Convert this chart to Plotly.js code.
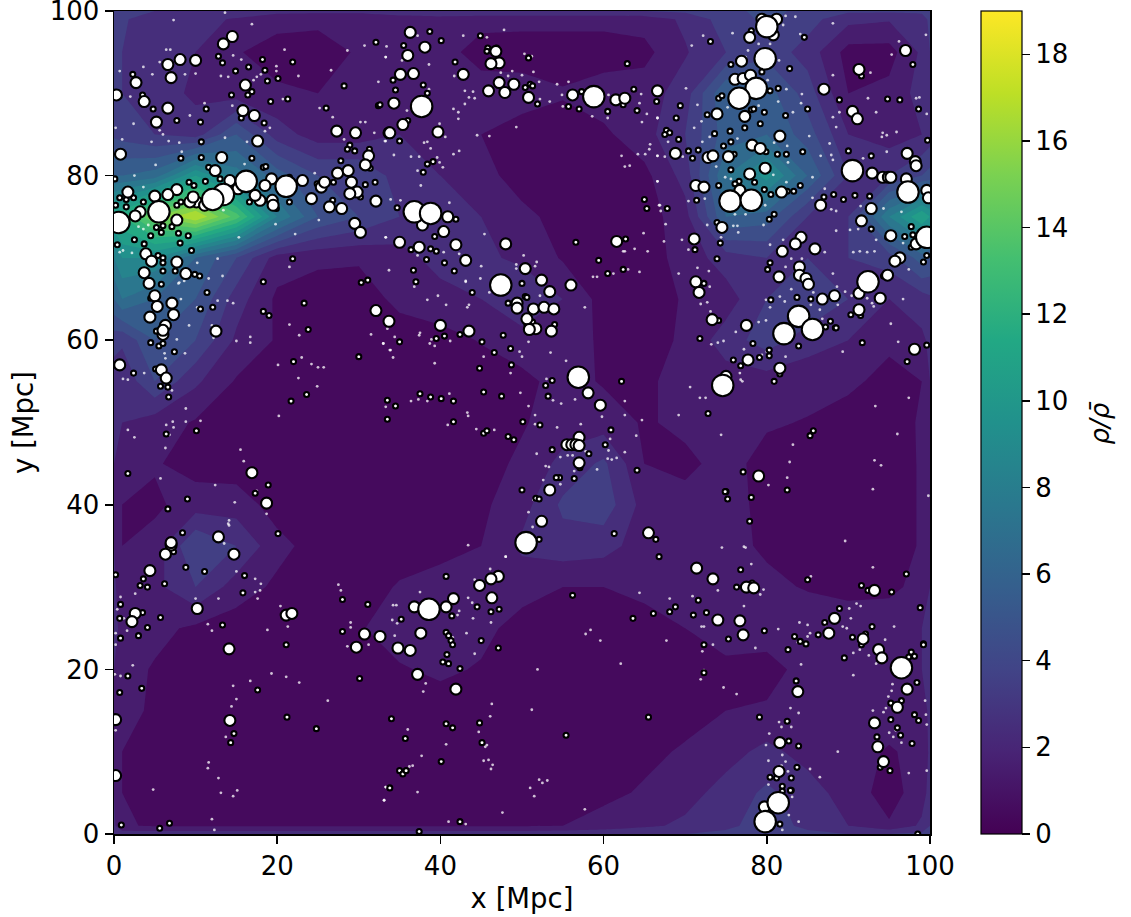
<!DOCTYPE html>
<html><head><meta charset="utf-8">
<script src="https://cdn.plot.ly/plotly-3.0.1.min.js"></script>
<style>html,body{margin:0;padding:0;background:#fff}</style></head>
<body><div id="chart" style="width:1131px;height:917px"></div>
<script>
const gridX=[0,1,5,10,15,20,25,30,35,40,45,50,55,60,65,70,75,80,85,90,95,99,100];
const gridY=[100,99,95,90,85,80,75,70,65,60,55,50,45,40,35,30,25,20,15,10,5,1,0];
const rhoRows=[
[3.6,3.4,3,3,2.6,2.3,2.3,2.3,2.6,2.8,3,3,3,3,3,3.2,3.8,4.2,3.8,3.2,3.2,3.2,3.4],
[3.4,3.1,2.6,2.3,1.9,1.4,1.2,1.2,1.5,1.6,1.3,1.3,1.3,1.3,1.4,2.2,3.5,4.2,3.4,2.3,2.1,2.6,3.2],
[3.3,3,2.5,2,1.1,0.5,0.6,1.1,1.4,1.4,0.6,0.5,0.5,0.5,0.7,1.9,3,3.6,2.6,0.6,0.6,2.2,3],
[3.3,3,2.5,1.8,1.5,1.2,1,1.4,1.8,1.5,1.5,1.5,1.1,1.5,1.5,2.5,6,5.5,3.5,1,1.3,2.4,2.8],
[3.8,3.6,3,2.5,5,2.5,1.5,1.5,2,1.5,1,0.5,0.5,0.8,1.6,3,5.5,6,4.5,2,1.5,2,2.4],
[6,6,6.5,10,7.5,5.5,4,4,2.5,2,1.4,0.5,0.5,0.5,0.7,2.4,7,9.5,6,3,3,4,4.4],
[11,12,15,17,13.5,8,5,4,3,3,2,1.3,0.6,0.5,0.5,1.6,6,5.5,3,3,8,11,10],
[8,9,9,6,4,1.5,1.2,1.1,1.5,2.5,2.2,1.8,0.9,0.5,0.5,1.4,2.5,3,3,3,3.5,5.5,5],
[6,7,6,5,2.5,0.8,0.5,0.6,1.2,1.5,2,2.8,2,0.6,0.5,1.1,1.5,3,4,3,2,2.5,2.8],
[3.4,3.2,5,4,1.8,0.9,0.5,0.5,0.6,0.7,1.05,1.6,1.6,0.8,0.5,1.2,2.5,3.5,2.5,2,1.2,1.8,2.2],
[2.4,2.2,4,2.2,0.9,0.5,0.5,0.5,0.5,0.5,0.6,0.7,1.4,0.9,0.8,1.4,1.5,1.5,1.3,1.2,0.7,1,2],
[2.2,2,1.5,0.9,0.5,0.5,0.5,0.5,0.5,0.5,0.6,0.9,1.5,1.5,0.9,1.2,1.4,1.1,0.95,0.6,0.6,1.1,2],
[2,1.8,1.1,0.6,0.5,0.5,0.5,0.5,0.5,0.5,0.6,1.2,2.3,3.2,1,0.8,1.3,0.7,0.5,0.5,0.5,1.1,2],
[2,1,0.8,1.5,1.5,0.6,0.5,0.5,0.5,0.5,0.8,1.6,3.2,3.6,1.6,1.3,1.4,0.7,0.5,0.5,0.5,1.1,2],
[2,1,1.4,4,3,1.3,0.6,0.5,0.5,0.6,1,2.2,2.6,2.4,1.5,1.5,1.4,0.8,0.5,0.5,0.5,1.1,2],
[2.2,1.4,1.7,3,1.5,0.8,0.5,0.5,1.1,1.5,1.6,1.4,1,1,1.2,1.3,2,1.3,0.9,0.7,0.7,1.4,2],
[2.2,1.8,1.3,0.8,0.5,0.5,0.5,0.9,1.5,1.6,1.3,0.6,0.5,0.5,0.7,1,1.6,1.4,1.8,1.6,1.8,2,2.3],
[2,1.4,0.9,0.6,0.5,0.5,0.5,0.5,0.9,1.2,0.9,0.5,0.5,0.5,0.5,0.6,0.7,0.7,1.3,1.5,1.6,2,2.3],
[2,1.2,0.9,0.5,0.5,0.5,0.5,0.5,0.5,0.5,0.5,0.5,0.5,0.5,0.5,0.7,1,1.1,1.4,1.5,1.5,1.6,2.2],
[2,1,0.7,0.5,0.5,0.5,0.5,0.5,0.5,0.5,0.5,0.5,0.5,0.5,0.8,1.1,1.6,2.3,1.6,1.4,0.9,1.3,2.2],
[2,1,0.7,0.5,0.5,0.5,0.5,0.5,0.5,0.5,0.5,0.5,0.6,0.8,1.1,1.6,2.4,3.2,2.5,1.5,0.6,1.5,2.4],
[2.2,1.1,0.9,0.9,0.9,0.9,0.9,0.9,0.9,0.9,0.9,0.9,1,1.3,1.8,2.2,2.8,3.4,2.8,2,1.1,2.2,3],
[3,2.6,2.6,2.6,2.6,2.6,2.6,2.6,2.6,2.6,2.6,2.6,2.7,2.8,2.9,3,3.2,3.6,3.2,3,3,3.2,3.6]
];
const smallX=[2.3,12.8,13.3,14.9,16.5,18.2,18.5,21.9,18.8,20.1,16.9,16.4,14.4,19.2,21.3,28.2,32.1,32.4,26,3.5,4.8,7.7,10.6,11.3,15.6,18.4,10.7,8.2,10.7,16.9,28.9,28.6,29.5,31.3,27.8,31.4,30.8,32,30.2,26.8,24.9,26.9,21.5,21.5,19.9,16.6,11.6,18.3,18.6,13,11.2,11.7,9.2,9.8,8.2,7.7,3.6,0.7,1.5,1.5,2.4,0.2,0.1,5.2,6,5.8,7.1,4.5,7.9,9.1,8.1,9.5,2.5,0.4,3.7,5.4,6,6,6,7.5,9.9,10.5,21.9,18.3,31.1,30.3,5.8,38.7,40.1,44.9,35.5,41.8,45.8,46.9,45.7,50.8,62.9,34.2,37.9,34.5,38.4,32.6,50.4,51,51.3,51.9,57.3,55.7,57,60.5,62.4,63.7,64.1,66.5,36,35,38.4,39.1,37.9,65,65.3,34.7,41.9,39.3,36.4,38.8,39.5,38.3,40.5,41.7,36.7,37,56.6,62.7,59.4,62.4,60.5,78.1,84.6,73.1,75.6,82.8,97.9,91.6,79.4,80.4,81.4,88.9,94.8,96.3,98.6,85,82.3,79.7,78.1,78.4,72.7,74.1,74.5,69.4,68.9,79.2,77.3,75.5,73.6,67.7,68.1,67.5,69.2,75.6,74.7,79.9,70.4,70.9,71.6,76,81.3,82.4,84.4,90,92.8,99.7,75.6,76.6,76.1,78.5,74.1,71.4,67.8,79.7,80.5,82.5,83.3,84.1,87,88.2,89.4,90.8,92.6,92.8,94.8,96.9,97.7,97.9,97.7,99.6,99.2,94.3,80.9,80.3,73.9,74.3,71.2,73.9,80.4,80.1,72.3,4.5,4.5,5.2,4.5,5.5,6,10.6,12.1,18.3,19,23.8,23.3,30,5.1,2.4,6.6,5.7,6.7,7.4,22,23.6,21.7,33.5,10.1,6.4,1.7,18.9,17.3,9,6.6,8.4,20.1,7.3,11.4,43.9,50.4,50.6,48.3,51.3,54,47.7,50.6,42.4,40.5,35,39.5,45.1,48.6,46.6,44.8,48.7,62.2,52.9,53.2,53.7,38.8,40.1,41.6,33.5,34.5,37.5,45.3,47.5,50.1,41.6,45.3,48.3,49,45.7,52.2,60.9,60.2,58.2,53.7,64.1,57.1,54.6,56.4,54.2,50,51.7,52.1,61.3,52.1,66.4,66.8,50,83.7,85.4,83,80.5,90.3,91.5,87.8,88.4,88.5,87.2,74.1,71.8,78.3,83.9,82.6,91.7,97.2,99.6,80.3,79.1,80.3,77.4,76.8,75.9,81.6,80.9,72.8,85.7,85.3,77.1,82.5,75,74.9,78.1,77.9,75.2,97.1,0.2,3.6,3.2,4.1,6.2,8.8,16,15.8,0.8,5.7,10.5,3.5,4.1,0.8,0.7,3,21.1,13.3,28,28,31.1,30.7,30.1,3.4,0.7,1.7,17.6,24.8,14.3,14.7,21.2,33.8,5.6,0.9,6.8,11.1,47.2,46.2,44.5,41.4,35.2,37.6,40.7,41.3,41,45,47.1,40.8,41,40.3,42.4,41.5,56.2,66.1,63.6,65.5,34,44.8,41.5,40.7,55.4,35.7,45.1,40.1,35,35.4,35.8,42.4,37.4,40.7,78.2,76.3,76.8,85,91.6,92.4,95.3,98.8,68.8,71,68.1,72.6,79.7,75.3,72.3,72.3,71.6,88.9,87.1,92.1,90.5,86.3,83.4,84.1,84.8,82.6,89.5,91.6,92.9,99.2,99.2,97.7,98.1,97.4,98.4,83.6,96.5,95.2,98.1,93.3,95.2,96,96.4,93.5,97.8,95.1,93.9,98.6,79.1,82.5,83.9,82.7,83.7,83,80.4,81.2,81.9,83,82.9,81.9,80.6,81.6,98.5,98.5];
const smallY=[92.3,94.5,93.7,92.7,93.2,94.1,92.8,93.8,91.5,91.8,90.2,89.8,89.8,89,89.3,90.9,96.2,88.5,88.2,89.8,88.1,86.7,86.5,88.1,87,86.4,84.1,82.1,82.2,82.1,83.7,83.2,83,83.2,81.8,80.9,78.9,79.2,77.4,77,79,79.2,79.8,76.8,76,76.8,81,81,81.1,79.6,79.3,78,79.2,78.8,76.8,76.4,76.8,77.3,77.1,76.2,77.3,76.4,79.6,73.7,73.9,73.1,73.8,72.7,73,72.7,71.8,70.9,72.2,71.6,71.7,70.3,70,69.4,68.4,68.4,68,67.8,69.9,67.1,67.3,67,66.8,97.5,96.4,97,95.8,93.8,95.5,95.5,95.1,94.3,93.6,91.6,91,90.4,90,88.6,90.7,91.1,90.9,88.7,90.2,88.4,88.1,87.8,88.6,90.5,87.9,89,86.7,84.2,81.4,81.7,80.4,77.1,76,76.1,74.7,72.6,71,71.1,70.8,69.8,69.4,68.4,68.5,67.1,71.9,72.3,69.7,68.6,68.1,97.6,96.8,96.3,93.5,93,93.5,92.1,92.6,90.3,90.6,89.2,89.3,89.2,88.1,88.1,87.3,87.7,88,88.1,87.4,89.4,89.7,88.5,87,86.3,85.8,85.4,85.1,85.5,85.2,85,84.4,84.1,83.6,82.9,83,82.1,83.1,82.6,82.6,82.6,82.9,83,82.4,84.3,80.7,79.3,79,79.2,78.8,77,76,78.3,77.7,78.1,78.1,78.8,77.4,77.7,77.1,77.6,77.5,73.5,72.5,72.6,73.8,72.8,71.3,70.3,69.5,67.8,75.3,74.7,74.3,71.8,71,69.9,69.4,68.6,66.9,65.1,63.1,61.1,59.7,59.3,59.6,63.8,64,63.5,63,61.3,64.5,58,56.5,56,54.3,54.4,53.1,58.6,57.4,53.4,52.6,50.4,49,48.6,43.8,42.4,41.4,40.7,39.5,36.6,36.5,34.3,65.8,65.8,65.3,65.2,64.5,62.2,61.9,60.6,61.9,60.7,60.5,59.8,60.2,59.8,59,58.5,56.6,57,55,54.5,53.2,55.1,53.1,52.9,52.6,52.7,52,53.5,53.7,53.2,50.1,50.1,48.7,48.3,47.9,49,49.7,49.1,47.3,46.2,46.7,44.2,44.5,43.3,43.2,43.3,41.8,40.8,40.7,36.5,35.8,35.8,33.7,66.9,65.2,65,63.2,64.9,63.1,63,62.3,61.5,61.5,61.6,62.4,60.2,59.6,59.3,60.8,59.7,57.4,59.4,58.8,57.9,58.1,57.5,56.9,57.6,55.9,55,51.1,49,48.4,44,41.8,41.6,41.6,40.9,38,40.7,31.6,31.5,31,30.2,30,30.4,32.4,31.4,29.3,27.9,26.3,27.2,26.9,25.1,23.8,26.2,24.1,23,25.4,24.6,28.5,27.9,24.6,18.9,17.7,17.2,19.2,17.5,12.8,11.1,12.2,14.2,5.6,0.7,1.1,1.3,31.9,27.3,27,27.6,26.5,26.1,24.3,24.5,23.5,24.1,23.5,22.6,21.8,20.7,20.9,20.1,23,29,26.8,26.2,14.2,14,13.5,12.9,13.4,12,11.6,11.1,8.8,7.7,7.3,7.7,1.5,0.3,31.3,30.5,30,32.1,30.9,30.2,29.6,29.4,27.5,27.6,26.6,27,26.9,24.7,23.7,23,19.6,28.4,27.4,25.7,24.3,23.9,24.2,24,23.4,23.1,22.4,21.4,23,25.2,23.1,23,22.1,21.6,21.5,18.4,18.6,16.2,15.9,14.5,13.6,13.9,12.9,12,11.8,11,7.7,8.1,13.8,14.2,13.7,10.7,11.3,8.1,6.8,6.9,6.8,5.8,5.3,5.3,5.2,1.7,1.2,0];
const midX=[14.5,13.4,8.1,10,6.6,7,2.7,16.1,0.3,3.7,6.6,5.2,15.8,17.2,27.3,29.6,33.7,17.6,0.8,13.2,31.2,30.8,27.4,28.7,29.1,29.8,28.9,32.1,26.4,27.9,29.5,30.2,24.2,25.4,25.8,23.1,19.3,18.5,19.4,19.5,17.9,17.3,14.2,15.2,12.4,10.1,9.3,9.7,11.1,7.7,6.6,5,1.7,3.2,2.6,7.7,3.9,4.6,7.7,3.7,8.8,4.3,36.3,38.1,36,46.8,47.2,46.2,35.1,36.7,42.8,34.3,45.9,47.2,47.9,49,50.8,56.2,61.5,62.6,66.6,35.4,33.8,39.7,40.9,37.8,40.4,35,37.4,41.9,43.1,48,61.6,50.4,52.4,56,81.2,79.4,80.8,77.9,76.9,97,91.3,76.1,77.1,78,87,90.5,91.1,77.3,73.9,81.6,78.2,79.2,68.8,72.8,73.4,75.3,97.2,98.2,98.3,79.8,77.9,92.9,94.2,94.9,95.2,97.1,99.6,99.8,71.3,72.3,76.7,81.8,86.6,92.8,91.6,95.2,98.3,96.3,95.7,94.8,74.5,71.1,84.2,83.5,81.9,85.9,81.5,84,84,84.8,71.3,5,7.1,5.3,7.3,4.4,6.3,6,6,12.5,0.7,5.8,6.4,32.1,33.7,16.9,18.7,7,7,12.8,6.3,14.7,53.4,49.4,49.4,51.4,52.7,53.9,50.6,51.7,50.9,53.6,40,43.5,58.1,59.6,57,55.5,56.1,56.6,57,57,53.4,52.4,65.5,71.7,85.1,88.3,86.8,91.3,93.9,91.3,77.5,73.3,98.1,77.7,81.6,75,79,4.4,2.6,2.2,10.2,21.1,21.8,14.1,30.7,32.6,29.7,14.2,0.2,0.2,47.1,46.2,44.8,46.3,41.6,40.7,36.8,37.6,34.8,36.3,37.2,41.9,71.4,73.4,77.5,78.4,93.2,74,76.7,77.1,88.3,87.6,91.8,93.7,94.1,83.8,97.2,96,93.2,93.6,94.3,81.6,81.5,79.7];
const midY=[96.9,96,94.1,94,93.5,91.9,91.3,91,89.8,89,88.2,86.5,87.9,87.3,85.4,85.2,85.2,84.2,82.6,82.2,82.4,81.3,80.3,80.6,79.2,78,77.8,76.9,76.2,76,74.2,73.1,77.2,78.6,79.2,79.4,79.6,78.8,77,76.4,77,77.6,79.4,78.4,80.6,76.8,76.8,77.4,76.4,78.3,77.7,77.5,78,75.6,75.1,74.6,70.5,69.6,69.5,68.2,68.1,66.9,97.4,95.6,94.6,95.1,93.7,93.6,92.3,92.4,92.3,88.8,90.3,91.3,90.1,91.1,89.5,89.8,89.2,89.4,90.3,86.2,85.2,85.3,75,74,73.2,71.9,71.3,71.6,69.7,71.7,72,68.7,67.3,66.7,99,99,97.1,96.8,93.9,95.2,92.9,91.7,91.8,92.2,90.5,87.8,86.9,87.2,87.5,84.8,83.7,83.3,82.7,82.2,82.4,82.3,82.7,81.7,81.2,80.9,80.2,80.3,79.8,79.8,79.8,79.6,78.2,77.3,78.8,78.6,78.2,78,76.4,76,74.5,72.7,71.7,70,69.6,67.9,73.7,72.3,72.5,71.7,70.8,71.1,67.7,68.9,67.9,67.5,67.1,65.4,64.5,64.1,63.1,62.8,61.8,60.7,61.2,61.1,57,56.4,55.4,63.6,62.3,43.9,40.2,35.1,35.4,36.1,34,34,65.9,64.5,63.9,63.8,64,63.8,62.6,61.4,61.3,61.1,61.8,61.1,53.6,52.1,48.2,47.3,47.3,47.3,47.2,45.1,41.8,38,36.6,65.8,66.8,65.4,65,65.7,65.1,63.7,61.8,62.5,58.9,57.6,56.6,55.6,43.5,32,26.8,25.8,27.4,26.6,26.8,22.5,24.3,24,22.7,13.8,13.9,7.1,31.3,31,30.2,28.7,28.6,27.6,27.6,24.4,22.6,22.3,19.4,17.6,32.3,31,30,29.9,29.6,26,25.9,24.2,26.2,24.4,23.7,22.4,21.4,17.3,17.6,15.4,13.5,10.6,8.8,11.1,7.6,3.3];
const bigX=[16.2,13.4,12.1,21.1,5.5,0.6,37.7,58.8,36.8,38.8,47.4,80,79.8,78.7,76.6,90.5,97.3,75.5,78.1,99.6,92.4,56.9,50.5,83.9,85.6,82.1,74.6,38.6,96.5,81.4,79.8];
const bigY=[79.3,77.7,77.1,78.7,75.6,74.3,88.4,89.6,75.6,75.4,66.7,98.1,94.2,90.6,89.4,80.6,78,76.9,77,72.5,67.1,55.5,35.4,62.9,61.3,60.8,54.5,27.3,20.2,3.8,1.5];
const tinyX=[13.6,7.3,16.9,6.4,6.9,20.9,28.6,30.7,33.3,14.6,15.6,5.6,0.7,3.6,4.7,8.7,10,13.1,14,19.9,19.9,18,17.5,17.1,22.6,26.6,32.4,2,11.1,14.5,20.7,25.2,26.8,9.3,2.4,0.2,5.6,6,18.5,19.1,30.2,30.8,31.9,33.3,1,4.6,6.7,8,13.6,16.3,28.2,8.3,5.1,16,24.6,2.5,3.6,13.4,19.8,22.2,15.3,33.3,25.1,3.6,3,4.2,1.1,0.7,2.2,10.2,12.7,21.5,13.3,11.6,8,47.8,45.7,42.8,37.2,33.4,33.3,38.6,35.3,50.3,51.2,48.8,47.4,48.3,50,51.4,52.1,54.3,55.7,41.7,38.6,43,44,43.5,44.2,43,41.6,42.2,42.2,52.2,53.4,54.9,55,60.6,64.6,64.4,65.3,64.7,66.6,58.6,60.5,35.9,39.9,49.3,44.5,46,40.6,33.2,38,38.4,38.8,42.3,41.6,34.3,36.4,37.4,39.6,39.9,40.3,37.2,37.6,33.9,35.1,41.1,62.2,62.6,63.2,64.2,65.1,65.6,65.7,66.6,66.6,66.8,33.3,45.4,40.4,42.3,37.2,33.7,45,43.1,44.9,50.2,49.3,51.8,51.6,49.3,64.9,63.8,65.4,62.4,62.6,63,64.4,61.2,58.7,59.2,82.3,83.5,88.1,72.2,70.8,75.8,82,84.1,96.2,99.5,95.3,80.4,79,77.7,77.4,81.5,88.1,92.7,82.4,84.3,70.1,81.4,84.2,92.4,98.3,98.7,71.5,79,80.1,75.2,88.1,88.9,93.4,99.6,83.2,66.6,72,71.1,88.5,67.9,72.1,73,85.2,82.5,80.9,87.7,94.2,94.7,95.9,94.1,76.4,94.7,66.6,67.5,69.7,73.8,82.6,86.6,87.9,88.1,91.8,74.9,80.8,85.6,82.4,66.6,75.6,87.1,85.6,72.4,70.4,66.9,67,76.1,77.4,79.8,87.9,88.5,91.5,94.3,96.5,72.7,75.9,76.4,79.6,76.5,74.4,67.6,88.5,90.2,91.2,93.4,96.7,69.6,67.4,70.4,80.4,82,87.1,90.6,91.4,92.3,93.2,83,84.3,97.4,71.5,69.2,72.9,88.1,82.3,7.9,8.6,8.2,12.7,13.9,14.6,10.2,9.2,21.5,22.7,31.5,33,33.8,7.7,12,12.2,15,16.7,16.7,8.7,6.2,6.3,20.1,23,24.2,25,25.7,1.1,1.7,3.7,22.6,24.9,7.1,8.8,10.6,7.2,8.8,6.4,7.3,20.2,6.8,1.7,2.5,6.3,15.5,15.9,5.7,12.4,17.5,14.8,18.7,14.1,14,14.1,13.5,43.1,36.8,38.4,39.7,40.7,43.5,43.3,46,52.2,57.7,33.5,37.5,37.4,34.4,38.9,41.2,38.7,39.3,33,33.9,34.2,39.3,45.3,50.8,49.7,50,53.5,55.4,48.6,53,41.1,38.4,37.3,36.4,34.4,33.3,47.5,49.8,50.8,56.5,54.8,53.8,62.6,59.8,62.6,64.7,43.3,43.4,40.9,44.4,46.6,51.6,51.6,54.3,57.2,60.8,64,51.8,54.7,55.6,56.2,57.8,60.6,62.6,60.5,61,61.6,52.9,53.3,59.2,56.4,52.6,54.7,51.4,50.8,51.3,43.4,48,73,83,81.6,79.9,82.2,85.7,88.6,89.6,90.4,92.3,92.9,93.1,96.7,88.7,71.9,72.7,80.4,85.4,86.5,86.8,73.1,79,79.9,95.2,76.2,74.7,74,73.2,96.1,89.3,77.2,79.4,80,80.4,82.3,76.7,76.7,76.8,77,70.6,71.8,72.5,93.3,97.4,69.2,74.4,96,83.2,82.8,93.2,94,82.5,80.2,93,99.8,89.6,74.5,77.2,77.4,15,17.3,18,17.9,17.3,17.6,10,12.8,27.5,27.8,2.6,0.8,0.4,20.4,1.2,11.5,12,21.3,18.8,29,29,0.2,1.6,0.2,28.6,31.2,2.3,0.1,0.8,16.7,19.3,21.1,22.7,14.6,15,26.2,14.4,0.2,13.7,11.6,11.5,12.8,4.8,15.1,13.1,14.6,33.3,33.1,12,12.3,48,46.1,44.2,43.4,37.5,34.2,34.6,43.9,42.3,42.1,44,46.2,34.1,34.7,64.4,34.4,43.2,41.5,58.4,57.8,59.6,47.3,44.2,62.1,51.9,38.2,37.9,46.3,51.2,46.1,36,44.7,45.7,45.5,40.7,37.7,45.3,45.9,46.4,46.2,36.6,36.2,33.3,37.2,33.1,51,52.1,52.5,53.1,51.5,57.7,47.6,41,43.1,78.1,93,85.4,70.9,68.1,74,79.6,79.2,77.2,91,91.5,90.1,90.3,84,85,87.2,89.3,89.8,95.6,72,72.3,81.4,85.3,85,67.7,94.5,83.8,73.4,78.6,72.1,91.4,90.6,92.5,84.2,93.4,90.6,72.3,71.9,95.4,95.3,74.7,76.3,94.9,99.4,94.6,82.9,83.9,93,94.3,99.5,81.5,81.8,83,99.6,80.3,95.8,95,95.5,79.9,81.9,88.7,96.5,80.2,82.3,81.8,85.3,83.1,86.5,97.4,99.6,82.6,80.2,83.2,83.1,82.7,83.9,81.9];
const tinyY=[99.8,98.9,98.4,95.3,95.3,95.3,95.2,95.8,94.4,94.6,94.1,93.8,92.7,93.2,92.3,92.3,92.4,92.1,92,93.3,92.7,92.3,92,91.6,92.1,92.8,91.4,89.6,88.8,88.5,89.3,88.2,87.1,87.3,86.3,85.8,85.5,85,85.4,85.8,86.5,86.5,85.2,84.2,84.4,84.1,84.2,84,84.6,84.1,84.4,82.9,81.3,81.4,80.3,80,78.6,75.8,74.1,72.9,72.5,72.5,74.6,73.5,73.8,74,70.9,70.7,70.6,69.4,69.9,68.9,67.8,67.5,67,97.7,96.8,97,97,95.7,94.4,93.5,94,94.8,94.5,92.7,92.5,92.1,92.2,92.6,91.4,91.1,91.4,92.1,90.5,90.3,90.2,89.5,89.4,88.7,88.1,87.7,86.9,89.3,89,89.8,88.4,89.8,89.9,88.8,87.5,86.5,87,87.2,87,87.9,86.3,85.9,84.9,84.8,84.7,84.2,84,84.1,83.3,83,82.6,82.5,82.3,82.3,82.2,81.6,81,80.6,78.8,77.1,77,76.7,82.4,81.1,81.2,82.6,82.6,83.2,83.8,82.4,79.3,76.4,72.5,72.9,70.7,70.5,70.3,68.5,69,67.2,67.5,70.3,69.2,69.5,69,68.7,73,71.1,70.8,70.8,70.8,68.6,68.3,68.1,67.7,67.7,99.4,99.3,98.5,97,95.8,97.3,98.3,97.2,96.3,97.1,94.7,96,96,95.2,94.4,94,92.2,92.5,90.5,89.9,90.6,89,88.8,89.4,89.4,89.5,88.6,88.5,91.6,88.3,87.1,87.7,87.7,87.5,87.7,87,86.6,85.8,85.9,84.1,84.1,84.7,84.8,83.6,84,83.9,85.2,84.9,85.3,84.7,84.5,82.9,82.4,82.3,82.3,81.1,81.6,82.4,82.5,81.9,82.1,79.8,80.1,79.8,79.2,79.3,79.6,78.4,77.3,77.2,76.9,76.4,75.7,75.3,75.3,76.4,75.9,75.7,76.3,76,75.6,74,73.9,73.9,74,73.1,72.5,74.1,73.3,73.4,73.5,72.2,71.8,72.2,72,71,71.6,72.2,70.7,70.7,70.8,70.7,70.8,69.9,69.9,68.6,68.8,68.1,68.4,68.1,68.9,66.9,67.2,65,64.8,64.8,64.5,64,61.8,61.9,60.6,60.7,59.6,58.8,60.1,61.8,60.3,59.9,60.4,59.7,58.4,58.4,57.8,57,57.9,57.1,56.7,56.7,55.3,55.2,56,55.4,54.4,53.9,51.7,50.2,50.1,50.1,49.7,49.4,50.8,48.5,49.1,48.2,46.9,46.7,45.3,43.2,42.4,41.7,40.3,38.9,38.1,37.7,37.5,35.3,67.1,66.5,64.9,65.4,64.3,64.3,64,65.8,65.4,64,61.4,60.9,60.6,60.4,60.1,59.9,59.6,59.3,59.6,58.8,57.9,57.2,58,59.8,58.6,58,58.5,57.5,56,55.3,53.5,52.6,52.8,52.6,51.9,51.9,53,53.6,52,52.8,52.3,52.7,52.6,50.7,50.9,50.3,51.2,50.8,49.7,49.2,49.1,50.9,49.8,49.4,49.8,48,48.4,46.2,45.8,46,46,46.5,46.6,46.4,45.6,45.5,45.7,44.7,44.6,44.3,44.1,43,42.5,40.6,39.1,37.3,35.1,33.7,66.5,66.2,65.3,64.9,64.7,65.8,66.5,65.9,65.4,65.1,64.5,64.1,65,64.3,64.4,64.6,64,64.3,63.7,62.6,63.5,62.2,62.4,62,61,59.9,59.7,59.5,59.8,58.6,58.9,58.2,58.6,58.7,58,56.8,56,55.2,55,54.3,53,53,52,53,50.9,48.5,48.6,47.3,45.2,45.4,44.8,43.3,42.4,41.9,41.1,35.6,34.8,34.9,34.8,31.9,31,30.4,29.6,29.4,28.6,28.6,28.6,30.3,29.6,29.2,28.8,27.3,27.7,26.2,25.5,24.7,25.2,24.8,25.7,25.1,24.4,24.7,23,22.8,23,20.5,19.4,19.2,18.6,19.5,19.1,18.4,18,16.4,16.2,15.5,12.6,11.8,8.7,8,6.8,5.4,5.3,5,4.6,5.7,4.1,1.8,0.5,33.7,32.2,30.9,28.7,29.4,27.8,27.8,28.1,27.1,26.6,26.2,25.7,26,25.6,29.3,24.1,24.4,23.9,24.8,24.3,23.5,22.6,21.9,20.7,20,18.3,17.3,15.8,15.1,14.3,12.7,12.4,10.8,10.6,10.9,9.5,8.9,9,8.4,7.9,8.3,8.2,5.7,5.1,4.1,5.6,6.6,6.2,6.5,4.6,3,2.6,1.5,1.2,32.8,32.4,31.3,28.9,28.6,29.6,29.7,29.1,27.7,28,27.7,27.4,26.2,25.7,25.4,25.4,25.2,25,25.2,25.2,25.2,24.9,24.4,24,23.5,23.6,23.3,23,22.6,22.2,22.4,22,21.7,20.6,20.7,19.3,19.9,18.8,18.2,17.4,17.8,17,16.7,16.2,15.3,15.3,14.7,15,14.8,14.5,13.6,13,13,13.3,12.2,12.6,12.3,11.8,10.8,9.6,10,11.1,8.9,8.8,8.3,7.9,6.8,6.9,7.4,7.7,7.6,6,5.1,4.5,2.3,1.5,0.5];
const viridis=[[0,'#440154'],[0.1,'#482475'],[0.2,'#414487'],[0.3,'#355f8d'],[0.4,'#2a788e'],[0.5,'#21918c'],[0.6,'#22a884'],[0.7,'#44bf70'],[0.8,'#7ad151'],[0.9,'#bddf26'],[1,'#fde725']];
const font={family:'"DejaVu Sans",sans-serif',size:26,color:'#000'};
const titleFont={family:'"DejaVu Sans",sans-serif',size:27.5,color:'#000'};
const gal=(x,y,s,w)=>({type:'scatter',mode:'markers',x,y,hoverinfo:'skip',showlegend:false,marker:{size:s,color:'#fff',line:{color:'#000',width:w}}});
const data=[
{type:'contour',x:gridX,y:gridY.slice().reverse(),z:rhoRows.slice().reverse(),zmin:0,zmax:19,colorscale:viridis,showscale:false,autocontour:false,contours:{start:0,end:19,size:1,coloring:'fill',showlines:false},line:{width:0,smoothing:0},hoverinfo:'skip'},
{type:'scatter',mode:'markers',x:tinyX,y:tinyY,hoverinfo:'skip',showlegend:false,marker:{size:2.8,color:'rgba(255,255,255,0.75)'}},
gal(smallX,smallY,5,2.1),gal(midX,midY,11,2.1),gal(bigX,bigY,21.5,2.1),
{type:'scatter',mode:'markers',x:[null],y:[null],hoverinfo:'skip',showlegend:false,marker:{color:[0],cmin:0,cmax:19,colorscale:viridis,showscale:true,colorbar:{x:(981-114)/816,xanchor:'left',y:0,yanchor:'bottom',len:1,lenmode:'fraction',thickness:41,thicknessmode:'pixels',xpad:0,ypad:0,outlinecolor:'#000',outlinewidth:1.2,tickmode:'array',tickvals:[0,2,4,6,8,10,12,14,16,18],ticktext:['0','2','4','6','8','10','12','14','16','18'],ticks:'outside',ticklen:8,tickwidth:1.5,tickcolor:'#000',tickfont:font}}}
];
const axis=(t,stand)=>({range:[0,100],title:{text:t,font:titleFont,standoff:stand},tickmode:'array',tickvals:[0,20,40,60,80,100],ticktext:['0','20','40','60','80','100'],tickfont:font,ticks:'outside',ticklen:8,tickwidth:1.5,tickcolor:'#000',showline:true,linecolor:'#000',linewidth:1.5,mirror:true,showgrid:false,zeroline:false,automargin:false,layer:'above traces',ticklabeloverflow:'allow'});
const layout={width:1131,height:917,margin:{l:114,r:201,t:11,b:83,pad:0},paper_bgcolor:'#fff',plot_bgcolor:'#fff',font,showlegend:false,xaxis:axis('x [Mpc]',9),yaxis:axis('y [Mpc]',8),
annotations:[{xref:'paper',yref:'paper',x:(1099-114)/816,y:0.5,showarrow:false,text:'<i>ρ/ρ̄</i>',textangle:-90,font,xanchor:'center',yanchor:'middle'}]};
Plotly.newPlot('chart',data,layout,{displayModeBar:false,staticPlot:true});
</script></body></html>
